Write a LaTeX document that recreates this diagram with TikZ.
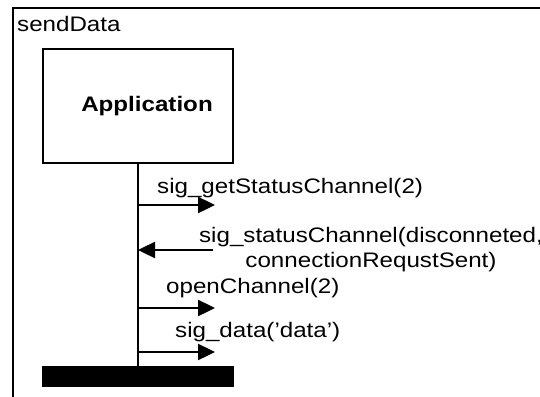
\documentclass[tikz,border=0pt]{standalone}
\usepackage{fontspec}
\setmainfont{Liberation Sans}[FakeStretch=1.15]
\usetikzlibrary{arrows.meta}
\begin{document}
\begin{tikzpicture}[x=1pt,y=-1pt,
  lbl/.style={font=\fontsize{21}{25}\selectfont, inner sep=0pt},
  msg/.style={line width=2.4pt, -{Triangle[length=17pt,width=16pt]}},
  thick2/.style={line width=2.4pt}]
\useasboundingbox (0,0) rectangle (540,396);
% frame
\draw[thick2] (13,400) -- (13,8) -- (545,8);
\node[lbl, anchor=base west] (title) at (17,31.5) {sendData};
% lifeline head
\node[thick2, draw, minimum width=190pt, minimum height=114pt, inner sep=0pt,
      font=\fontsize{21}{25}\selectfont\bfseries] (app) at (138,106) {\hspace*{18pt}Application};
\node[fill=black, minimum width=192pt, minimum height=21pt, inner sep=0pt] (bar) at (138,376.5) {};
\draw[thick2] (app.south) -- (bar.north);
% message endpoints
\coordinate (l1) at (138,205); \coordinate (r1) at (215,205);
\coordinate (l2) at (138,250); \coordinate (r2) at (213,250);
\coordinate (l3) at (138,308); \coordinate (r3) at (215,308);
\coordinate (l4) at (138,352); \coordinate (r4) at (215,352);
\draw[msg] (l1) -- (r1);
\draw[msg] (r2) -- (l2);
\draw[msg] (l3) -- (r3);
\draw[msg] (l4) -- (r4);
% labels
\node[lbl, anchor=base west] (m1) at (157,193) {sig\_getStatusChannel(2)};
\node[lbl, anchor=base, align=center] (m2) at (371,267) {sig\_statusChannel(disconneted,\\connectionRequstSent)};
\node[lbl, anchor=base west] (m3) at (166,293) {openChannel(2)};
\node[lbl, anchor=base west] (m4) at (175,337) {sig\_data(’data’)};
\end{tikzpicture}
\end{document}
